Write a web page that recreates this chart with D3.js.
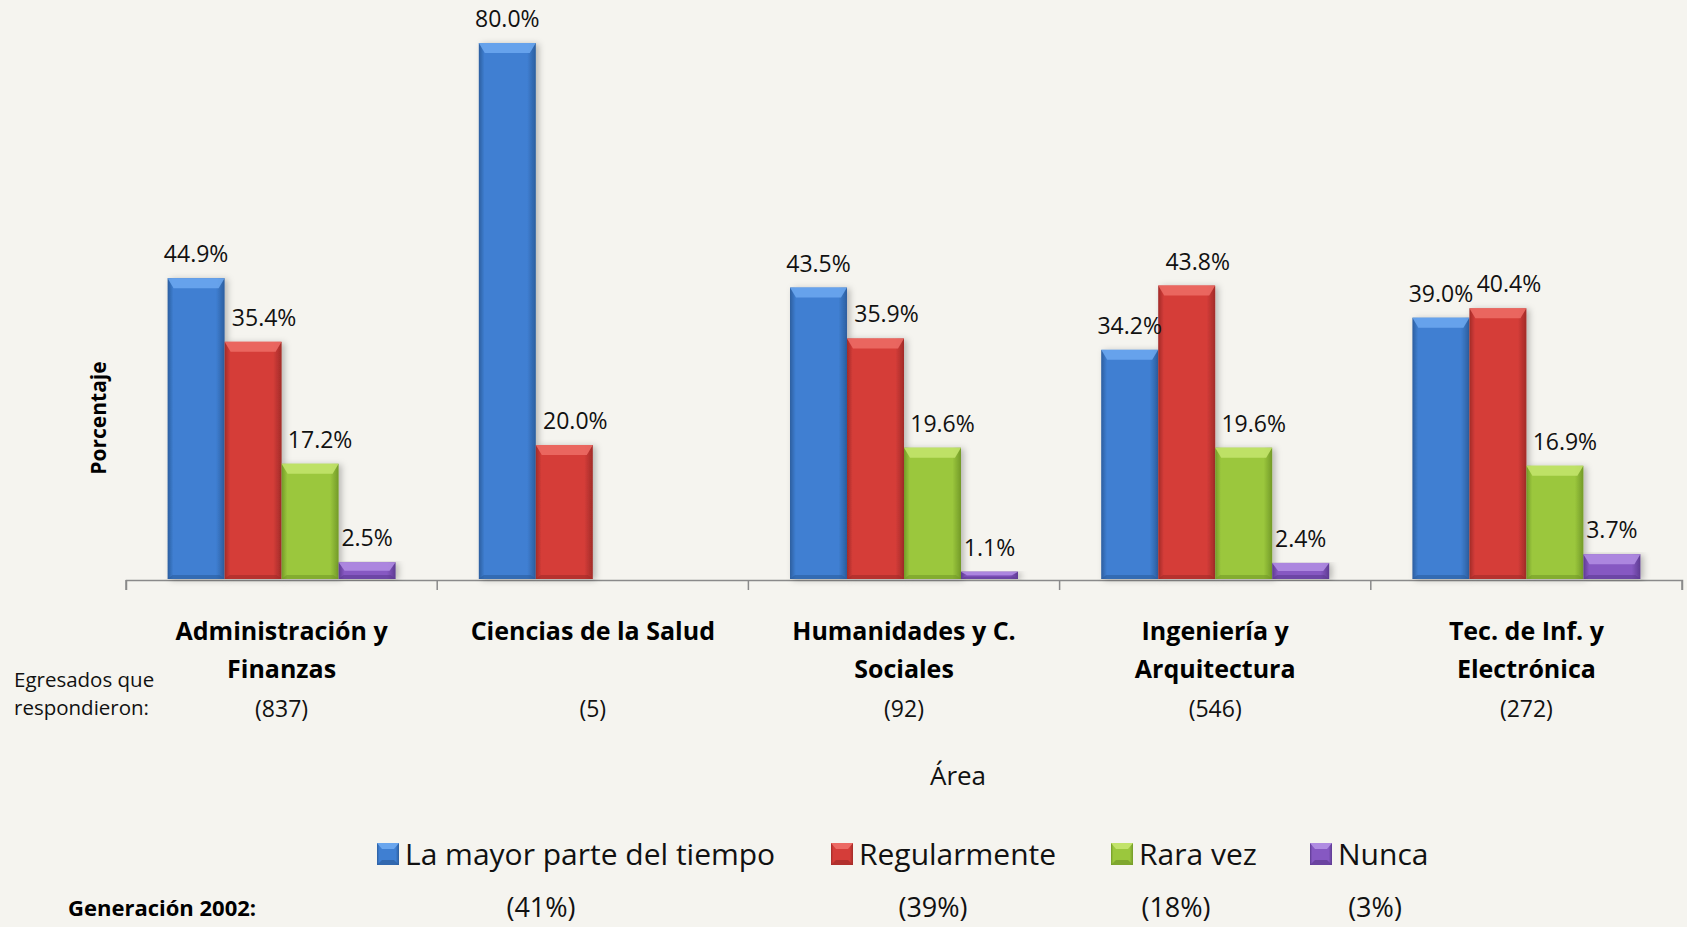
<!DOCTYPE html>
<head>
  <meta charset="utf-8">
  <script src="https://d3js.org/d3.v7.min.js"></script>
  <style>
    body { margin: 0; background: #f5f4ef; }
    svg { display: block; font-family: "Open Sans", "Noto Sans", sans-serif; }
  </style>
</head>

<body>
  <svg></svg>

  <script>
    const width = 1687;
    const height = 927;

    // data
    const areas = [
      ['Administración y', 'Finanzas'],
      ['Ciencias de la Salud'],
      ['Humanidades y C.', 'Sociales'],
      ['Ingeniería y', 'Arquitectura'],
      ['Tec. de Inf. y', 'Electrónica'],
    ];
    const respondents = ['(837)', '(5)', '(92)', '(546)', '(272)'];
    const series = ['La mayor parte del tiempo', 'Regularmente', 'Rara vez', 'Nunca'];
    const mayorParte = [44.9, 80.0, 43.5, 34.2, 39.0];
    const regularmente = [35.4, 20.0, 35.9, 43.8, 40.4];
    const raraVez = [17.2, null, 19.6, 19.6, 16.9];
    const nunca = [2.5, null, 1.1, 2.4, 3.7];
    const generacion = ['(41%)', '(39%)', '(18%)', '(3%)'];

    const values = [mayorParte, regularmente, raraVez, nunca];
    const colors = [
      { base: '#3f7fd2', edge: '#2c5e9f', top: '#6aa6ee' },
      { base: '#d53d39', edge: '#a22b28', top: '#ec6a64' },
      { base: '#9bc73d', edge: '#739a28', top: '#c2e36a' },
      { base: '#8658c2', edge: '#5e3b92', top: '#b08ce2' },
    ];
    // the red and green labels sit a little to the right in the original
    const labelShift = [0, 11, 10, 0];

    const svg = d3.select('svg')
      .attr('width', width)
      .attr('height', height);

    const defs = svg.append('defs');
    colors.forEach((c, i) => {
      const g = defs.append('linearGradient')
        .attr('id', 'grad' + i)
        .attr('x1', '0%').attr('x2', '100%')
        .attr('y1', '0%').attr('y2', '0%');
      g.append('stop').attr('offset', '0%').attr('stop-color', c.edge);
      g.append('stop').attr('offset', '10%').attr('stop-color', c.base);
      g.append('stop').attr('offset', '85%').attr('stop-color', c.base);
      g.append('stop').attr('offset', '100%').attr('stop-color', c.edge);
    });
    const shadow = defs.append('filter').attr('id', 'shadow')
      .attr('x', '-20%').attr('y', '-5%').attr('width', '150%').attr('height', '115%');
    shadow.append('feDropShadow')
      .attr('dx', 3).attr('dy', 1).attr('stdDeviation', 3)
      .attr('flood-color', '#000').attr('flood-opacity', 0.25);

    // scales
    const x0 = d3.scaleBand()
      .domain(d3.range(areas.length))
      .range([126, 1682]);
    const x1 = d3.scaleBand()
      .domain(d3.range(series.length))
      .range([0, x0.bandwidth()])
      .paddingOuter(0.73);
    const y = d3.scaleLinear()
      .domain([0, 80])
      .range([579, 43]);

    // axis: the line and the boundary ticks, no labels
    const axisG = svg.append('g')
      .attr('transform', `translate(0,${y(0) + 1})`)
      .call(d3.axisBottom(x0).tickSizeOuter(10).tickFormat(''));
    axisG.selectAll('.tick').remove();
    axisG.select('.domain').attr('stroke', '#8a8a8a').attr('stroke-width', 1.5);
    axisG.selectAll('.b')
      .data(d3.range(areas.length + 1))
      .enter().append('line')
      .attr('x1', d => d < areas.length ? x0(d) : x0.range()[1])
      .attr('x2', d => d < areas.length ? x0(d) : x0.range()[1])
      .attr('y1', 0).attr('y2', 10)
      .attr('stroke', '#8a8a8a').attr('stroke-width', 1.5);

    // bars
    const barData = [];
    values.forEach((vals, s) => {
      vals.forEach((v, a) => {
        if (v != null) barData.push({ s, a, v });
      });
    });

    function bevelBar(sel) {
      sel.each(function (d) {
        const g = d3.select(this);
        const bx = x0(d.a) + x1(d.s);
        const bw = x1.bandwidth();
        const top = y(d.v);
        const h = y(0) - top;
        const bev = Math.min(10, h / 2);
        const low = Math.min(4, h / 3);
        g.append('rect')
          .attr('x', bx).attr('y', top)
          .attr('width', bw).attr('height', h)
          .attr('fill', `url(#grad${d.s})`)
          .attr('filter', 'url(#shadow)');
        g.append('path')
          .attr('d', `M${bx},${top}L${bx + bw},${top}L${bx + bw - 6},${top + bev}L${bx + 6},${top + bev}Z`)
          .attr('fill', colors[d.s].top)
          .attr('opacity', 0.9);
        g.append('path')
          .attr('d', `M${bx},${top + h}L${bx + bw},${top + h}L${bx + bw - 5},${top + h - low}L${bx + 5},${top + h - low}Z`)
          .attr('fill', colors[d.s].edge)
          .attr('opacity', 0.6);
      });
    }

    svg.append('g').selectAll('g')
      .data(barData)
      .enter().append('g')
      .call(bevelBar);

    // value labels
    svg.append('g').selectAll('text')
      .data(barData)
      .enter().append('text')
      .attr('x', d => x0(d.a) + x1(d.s) + x1.bandwidth() / 2 + labelShift[d.s])
      .attr('y', d => y(d.v) - 16)
      .attr('text-anchor', 'middle')
      .attr('font-size', 23)
      .attr('fill', '#111')
      .text(d => d.v.toFixed(1) + '%');

    // category labels
    const catG = svg.append('g');
    areas.forEach((lines, a) => {
      const cx = x0(a) + x0.bandwidth() / 2;
      const t = catG.append('text')
        .attr('x', cx)
        .attr('y', 640)
        .attr('text-anchor', 'middle')
        .attr('font-size', 25)
        .attr('font-weight', 'bold')
        .attr('fill', '#000');
      lines.forEach((l, i) => {
        t.append('tspan')
          .attr('x', cx)
          .attr('dy', i === 0 ? 0 : 38)
          .text(l);
      });
    });

    // respondents
    svg.append('g').selectAll('text')
      .data(respondents)
      .enter().append('text')
      .attr('x', (d, i) => x0(i) + x0.bandwidth() / 2)
      .attr('y', 717)
      .attr('text-anchor', 'middle')
      .attr('font-size', 23)
      .attr('fill', '#111')
      .text(d => d);

    const egr = svg.append('text')
      .attr('x', 14).attr('y', 687)
      .attr('font-size', 20.5)
      .attr('fill', '#111');
    egr.append('tspan').attr('x', 14).text('Egresados que');
    egr.append('tspan').attr('x', 14).attr('dy', 28).text('respondieron:');

    // axis titles
    svg.append('text')
      .attr('x', 958).attr('y', 785)
      .attr('text-anchor', 'middle')
      .attr('font-size', 26)
      .attr('fill', '#111')
      .text('Área');

    svg.append('text')
      .attr('transform', 'translate(106,418) rotate(-90)')
      .attr('text-anchor', 'middle')
      .attr('font-size', 21)
      .attr('font-weight', 'bold')
      .attr('fill', '#000')
      .text('Porcentaje');

    // legend
    const legendX = [377, 831, 1111, 1310];
    const legend = svg.append('g').selectAll('g')
      .data(series)
      .enter().append('g')
      .attr('transform', (d, i) => `translate(${legendX[i]},843)`);
    legend.append('rect')
      .attr('width', 22).attr('height', 22)
      .attr('fill', (d, i) => `url(#grad${i})`);
    legend.append('path')
      .attr('d', 'M0,0L22,0L17,6L5,6Z')
      .attr('fill', (d, i) => colors[i].top);
    legend.append('path')
      .attr('d', 'M0,22L22,22L17,17L5,17Z')
      .attr('fill', (d, i) => colors[i].edge)
      .attr('opacity', 0.7);
    legend.append('text')
      .attr('x', 28).attr('y', 22)
      .attr('font-size', 30)
      .attr('fill', '#111')
      .text(d => d);

    // generation row
    svg.append('text')
      .attr('x', 68).attr('y', 916)
      .attr('font-size', 22)
      .attr('font-weight', 'bold')
      .attr('fill', '#000')
      .text('Generación 2002:');
    const genX = [541, 933, 1176, 1375];
    svg.append('g').selectAll('text')
      .data(generacion)
      .enter().append('text')
      .attr('x', (d, i) => genX[i])
      .attr('y', 917)
      .attr('text-anchor', 'middle')
      .attr('font-size', 27)
      .attr('fill', '#111')
      .text(d => d);
  </script>
</body>
